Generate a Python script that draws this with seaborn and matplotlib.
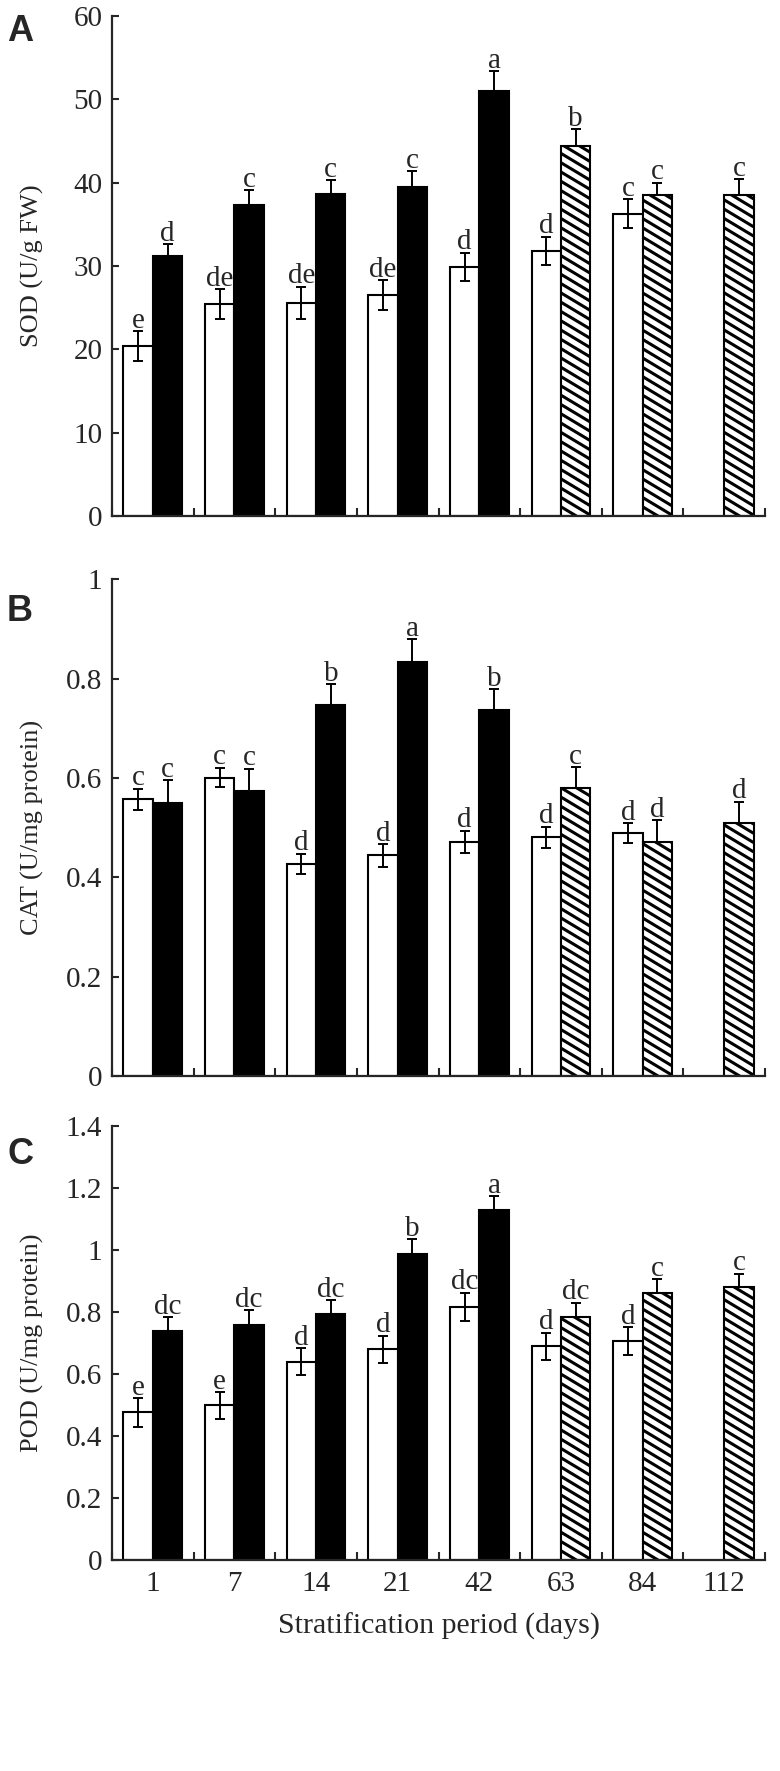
import numpy as np
import pandas as pd
import matplotlib
matplotlib.use("Agg")
import matplotlib.pyplot as plt
import seaborn as sns

sns.set_style("ticks")
plt.rcParams['font.family'] = ['Liberation Serif', 'DejaVu Serif']
plt.rcParams['axes.linewidth'] = 1.6

# stratification days
days = ["1", "7", "14", "21", "42", "63", "84", "112"]
# style of right-hand bar in each group
right_style = ["solid", "solid", "solid", "solid", "solid", "hatched", "hatched", "hatched"]

# SOD (U/g FW)
sod_left = [20.4, 25.4, 25.6, 26.5, 29.9, 31.8, 36.3, None]
sod_left_err = [1.8, 1.8, 1.9, 1.8, 1.7, 1.7, 1.7, None]
sod_right = [31.2, 37.3, 38.6, 39.5, 51.0, 44.4, 38.5, 38.5]
sod_right_err = [1.4, 1.8, 1.7, 1.9, 2.4, 2.0, 1.5, 1.9]
sod_left_letters = ["e", "de", "de", "de", "d", "d", "c", ""]
sod_right_letters = ["d", "c", "c", "c", "a", "b", "c", "c"]

# CAT (U/mg protein)
cat_left = [0.557, 0.601, 0.427, 0.444, 0.472, 0.481, 0.489, None]
cat_left_err = [0.021, 0.020, 0.021, 0.023, 0.022, 0.021, 0.020, None]
cat_right = [0.549, 0.574, 0.746, 0.834, 0.736, 0.580, 0.471, 0.509]
cat_right_err = [0.046, 0.045, 0.043, 0.045, 0.043, 0.042, 0.044, 0.043]
cat_left_letters = ["c", "c", "d", "d", "d", "d", "d", ""]
cat_right_letters = ["c", "c", "b", "a", "b", "c", "d", "d"]

# POD (U/mg protein)
pod_left = [0.476, 0.499, 0.640, 0.680, 0.817, 0.689, 0.707, None]
pod_left_err = [0.046, 0.043, 0.044, 0.043, 0.045, 0.044, 0.044, None]
pod_right = [0.740, 0.758, 0.794, 0.987, 1.130, 0.785, 0.861, 0.880]
pod_right_err = [0.043, 0.047, 0.044, 0.048, 0.044, 0.045, 0.044, 0.044]
pod_left_letters = ["e", "e", "d", "d", "dc", "d", "d", ""]
pod_right_letters = ["dc", "dc", "dc", "b", "a", "dc", "c", "c"]

panels = [
    ("A", "SOD (U/g FW)", sod_left, sod_left_err, sod_right, sod_right_err,
     sod_left_letters, sod_right_letters, np.arange(0, 61, 10), 60),
    ("B", "CAT (U/mg protein)", cat_left, cat_left_err, cat_right, cat_right_err,
     cat_left_letters, cat_right_letters, np.arange(0, 1.01, 0.2), 1.0),
    ("C", "POD (U/mg protein)", pod_left, pod_left_err, pod_right, pod_right_err,
     pod_left_letters, pod_right_letters, np.arange(0, 1.41, 0.2), 1.4),
]

# axes boxes [left, bottom, width, height] in figure fraction
boxes = [
    [0.1436, 0.7086, 0.8372, 0.2823],
    [0.1436, 0.3924, 0.8372, 0.2805],
    [0.1436, 0.1191, 0.8372, 0.2451],
]
letter_y = [0.9921, 0.6646, 0.358]


def hatch_bar(ax, bar, spacing=9.3, slope=0.6, lw=2.2):
    # shallow "\" stripes clipped to the bar, spaced in pixels
    x0, y0 = bar.get_x(), bar.get_y()
    px0, py0 = ax.transData.transform((x0, y0))
    px1, py1 = ax.transData.transform((x0 + bar.get_width(), y0 + bar.get_height()))
    wpx = px1 - px0
    inv = ax.transData.inverted()
    for c in np.arange(py0, py1 + slope * wpx + spacing, spacing):
        pts = inv.transform([(px0, c), (px1, c - slope * wpx)])
        ln, = ax.plot(pts[:, 0], pts[:, 1], color="black", lw=lw,
                      solid_capstyle="butt", zorder=1.5)
        ln.set_clip_path(bar)


fig = plt.figure(figsize=(7.8, 17.71), dpi=100)

for k, (tag, ylab, lv, le, rv, re_, ll, rl, yt, ytop) in enumerate(panels):
    ax = fig.add_axes(boxes[k])
    rows = []
    for i, d in enumerate(days):
        if lv[i] is not None:
            rows.append({"day": d, "slot": "left", "value": lv[i]})
        rows.append({"day": d, "slot": "right", "value": rv[i]})
    df = pd.DataFrame(rows)

    sns.barplot(data=df, x="day", y="value", hue="slot", order=days,
                hue_order=["left", "right"],
                palette={"left": "white", "right": "black"}, saturation=1,
                edgecolor="black", linewidth=1.5, width=0.72, errorbar=None,
                legend=False, ax=ax)

    ax.set_xlim(-0.5, len(days) - 0.5)
    ax.set_ylim(0, ytop)

    for slot, cont in zip(["left", "right"], ax.containers):
        vals, errs, labs = (lv, le, ll) if slot == "left" else (rv, re_, rl)
        for bar in cont:
            xc = bar.get_x() + bar.get_width() / 2
            i = int(round(xc))
            if slot == "right" and right_style[i] == "hatched":
                bar.set_facecolor("white")
                hatch_bar(ax, bar)
            lo = errs[i] if slot == "left" else 0
            ax.errorbar(xc, vals[i], yerr=[[lo], [errs[i]]], fmt="none",
                        ecolor="black", elinewidth=1.4, capsize=3.3,
                        capthick=1.4, zorder=3)
            ax.annotate(labs[i], (xc, vals[i] + errs[i]), xytext=(0, 2.5),
                        textcoords="offset points", ha="center",
                        va="baseline", fontsize=21)

    ax.set_xlim(-0.5, len(days) - 0.5)
    ax.set_ylim(0, ytop)
    ax.set_yticks(yt)
    ax.set_yticklabels([f"{v:g}" for v in yt])
    ax.set_xticks(np.arange(-0.5, len(days), 1), minor=True)
    ax.tick_params(axis="y", direction="in", length=5, width=1.5,
                   labelsize=21, pad=7)
    ax.tick_params(axis="x", which="major", length=0, labelsize=21, pad=8)
    ax.tick_params(axis="x", which="minor", direction="in", length=6, width=1.5)
    sns.despine(ax=ax)
    ax.set_ylabel(ylab, fontsize=19)
    ax.yaxis.set_label_coords(-0.104, 0.5)
    if k < 2:
        ax.set_xticklabels([])
        ax.set_xlabel("")
    else:
        ax.set_xlabel("Stratification period (days)", fontsize=21.5, labelpad=11)

    fig.text(0.009, letter_y[k], tag, fontsize=26, fontweight="bold",
             family="Liberation Sans", va="top", ha="left")

fig.savefig("out.png", dpi=100)
